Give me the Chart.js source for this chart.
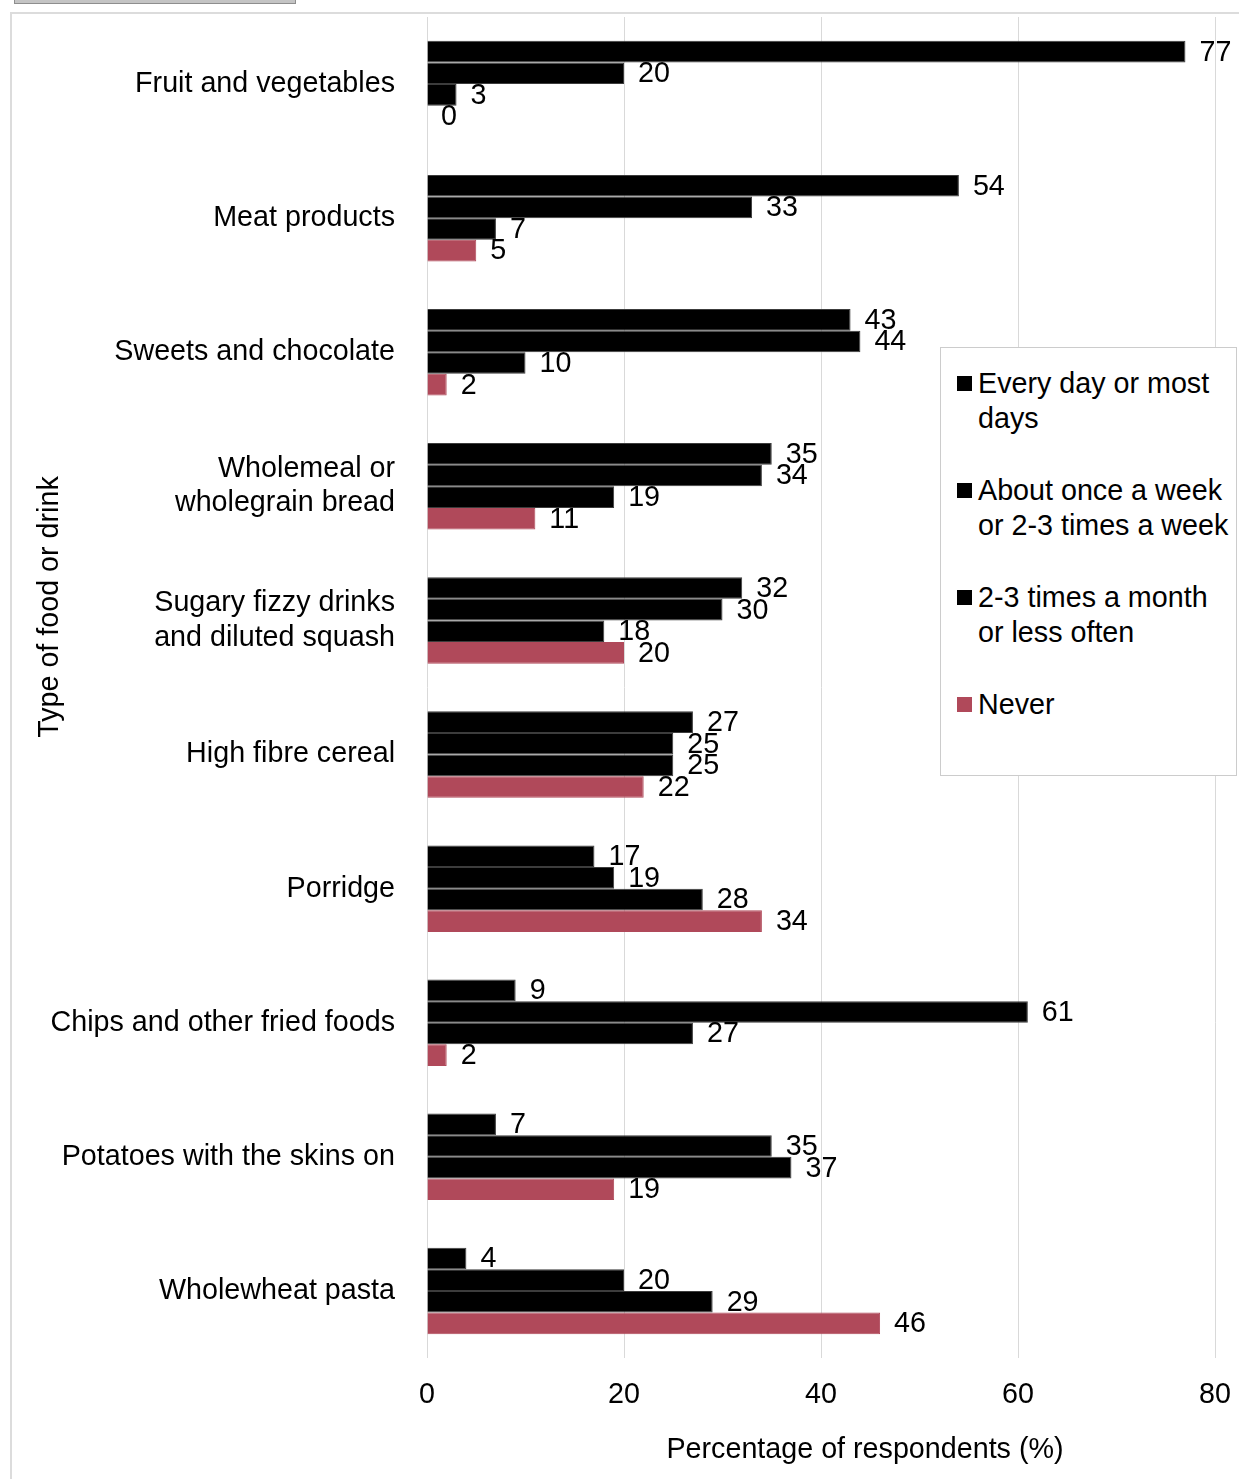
<!DOCTYPE html>
<html lang="en">
<head>
  <meta charset="UTF-8">
  <meta name="viewport" content="width=device-width, initial-scale=1.0">
  <title>Food and drink frequency</title>
  <script src="https://cdn.jsdelivr.net/npm/chart.js"></script>
  <style>
    body {
      margin: 0;
      background: #fff;
      font-family: "Liberation Sans", Arial, sans-serif;
    }
    .page {
      position: relative;
      width: 1239px;
      height: 1479px;
      overflow: hidden;
    }
    .tab {
      position: absolute;
      left: 14px;
      top: -20px;
      width: 280px;
      height: 22px;
      background: #c4c4c4;
      border: 1px solid #8e8e8e;
    }
    .frame {
      position: absolute;
      left: 10px;
      top: 12px;
      width: 1300px;
      height: 1600px;
      border-left: 2px solid #dcdcdc;
      border-top: 2px solid #dcdcdc;
    }
    canvas {
      position: absolute;
      left: 0;
      top: 0;
    }
    .legend {
      position: absolute;
      left: 940px;
      top: 347px;
      width: 295px;
      height: 427px;
      background: #fff;
      border: 1px solid #cccccc;
      font-size: 28.7px;
      line-height: 35px;
      color: #000;
    }
    .legend .item {
      position: relative;
      padding-left: 37px;
      margin-bottom: 37px;
      white-space: nowrap;
    }
    .legend .item:first-child {
      margin-top: 18px;
    }
    .legend .swatch {
      position: absolute;
      left: 16px;
      top: 10px;
      width: 15px;
      height: 15px;
    }
  </style>
</head>
<body>
  <div class="page">
    <div class="tab"></div>
    <div class="frame"></div>
    <canvas id="foodChart" width="1239" height="1479"></canvas>
    <div class="legend" id="legend"></div>
  </div>

  <script>
    const categories = [
      'Fruit and vegetables',
      'Meat products',
      'Sweets and chocolate',
      ['Wholemeal or', 'wholegrain bread'],
      ['Sugary fizzy drinks', 'and diluted squash'],
      'High fibre cereal',
      'Porridge',
      'Chips and other fried foods',
      'Potatoes with the skins on',
      'Wholewheat pasta'
    ];
    const seriesNames = [
      ['Every day or most', 'days'],
      ['About once a week', 'or 2-3 times a week'],
      ['2-3 times a month', 'or less often'],
      ['Never']
    ];
    const everyDay = [77, 54, 43, 35, 32, 27, 17, 9, 7, 4];
    const weekly = [20, 33, 44, 34, 30, 25, 19, 61, 35, 20];
    const monthly = [3, 7, 10, 19, 18, 25, 28, 27, 37, 29];
    const never = [0, 5, 2, 11, 20, 22, 34, 2, 19, 46];
    const xTicks = [0, 20, 40, 60, 80];

    const FONT = '"Liberation Sans", Arial, sans-serif';
    const FS = 28.7;
    const colors = ['#000000', '#000000', '#000000', '#b0495a'];
    const borders = ['#3c3c3c', '#3c3c3c', '#3c3c3c', '#b0495a'];

    Chart.defaults.font.family = FONT;
    Chart.defaults.font.size = FS;
    Chart.defaults.color = '#000';

    const seriesData = [everyDay, weekly, monthly, never];

    // value labels to the right of each bar
    const valueLabels = {
      id: 'valueLabels',
      afterDatasetsDraw(chart) {
        const ctx = chart.ctx;
        ctx.save();
        ctx.font = FS + 'px ' + FONT;
        ctx.fillStyle = '#000';
        ctx.textBaseline = 'middle';
        ctx.textAlign = 'left';
        chart.data.datasets.forEach((ds, i) => {
          chart.getDatasetMeta(i).data.forEach((bar, j) => {
            ctx.fillText(String(ds.data[j]), bar.x + 14, bar.y + 1);
          });
        });
        ctx.restore();
      }
    };

    // axis titles placed like the original
    const axisTitles = {
      id: 'axisTitles',
      afterDraw(chart) {
        const ctx = chart.ctx;
        ctx.save();
        ctx.font = FS + 'px ' + FONT;
        ctx.fillStyle = '#000';
        ctx.textAlign = 'center';
        ctx.textBaseline = 'middle';
        ctx.fillText('Percentage of respondents (%)', 865, 1450);
        ctx.translate(50, 607);
        ctx.rotate(-Math.PI / 2);
        ctx.fillText('Type of food or drink', 0, 0);
        ctx.restore();
      }
    };

    new Chart(document.getElementById('foodChart'), {
      type: 'bar',
      data: {
        labels: categories,
        datasets: seriesData.map((d, i) => ({
          label: seriesNames[i].join(' '),
          data: d,
          backgroundColor: colors[i],
          borderColor: borders[i],
          borderWidth: 1,
          categoryPercentage: 0.645,
          barPercentage: 1.0
        }))
      },
      options: {
        indexAxis: 'y',
        responsive: false,
        animation: false,
        layout: {
          padding: { top: 17, right: 24, bottom: 0, left: 0 }
        },
        plugins: {
          legend: { display: false },
          tooltip: { enabled: false }
        },
        scales: {
          x: {
            min: 0,
            max: 80,
            afterBuildTicks: scale => {
              scale.ticks = xTicks.map(v => ({ value: v }));
            },
            afterFit: scale => {
              scale.height = 121;
              scale.paddingLeft = 0;
              scale.paddingRight = 0;
            },
            grid: {
              color: '#d9d9d9',
              lineWidth: 1,
              drawTicks: false
            },
            border: { display: false },
            ticks: { padding: 20 }
          },
          y: {
            afterFit: scale => {
              scale.width = 427;
              scale.paddingTop = 0;
              scale.paddingBottom = 0;
            },
            grid: { display: false, drawTicks: false },
            border: { display: false },
            ticks: {
              padding: 32,
              font: { size: FS, lineHeight: 1.2 }
            }
          }
        }
      },
      plugins: [valueLabels, axisTitles]
    });

    // legend drawn as html so the wrapped entries match
    const legend = document.getElementById('legend');
    seriesNames.forEach((name, i) => {
      const item = document.createElement('div');
      item.className = 'item';
      const sw = document.createElement('span');
      sw.className = 'swatch';
      sw.style.background = colors[i];
      item.appendChild(sw);
      name.forEach((line, k) => {
        if (k > 0) item.appendChild(document.createElement('br'));
        item.appendChild(document.createTextNode(line));
      });
      legend.appendChild(item);
    });
  </script>
</body>
</html>
